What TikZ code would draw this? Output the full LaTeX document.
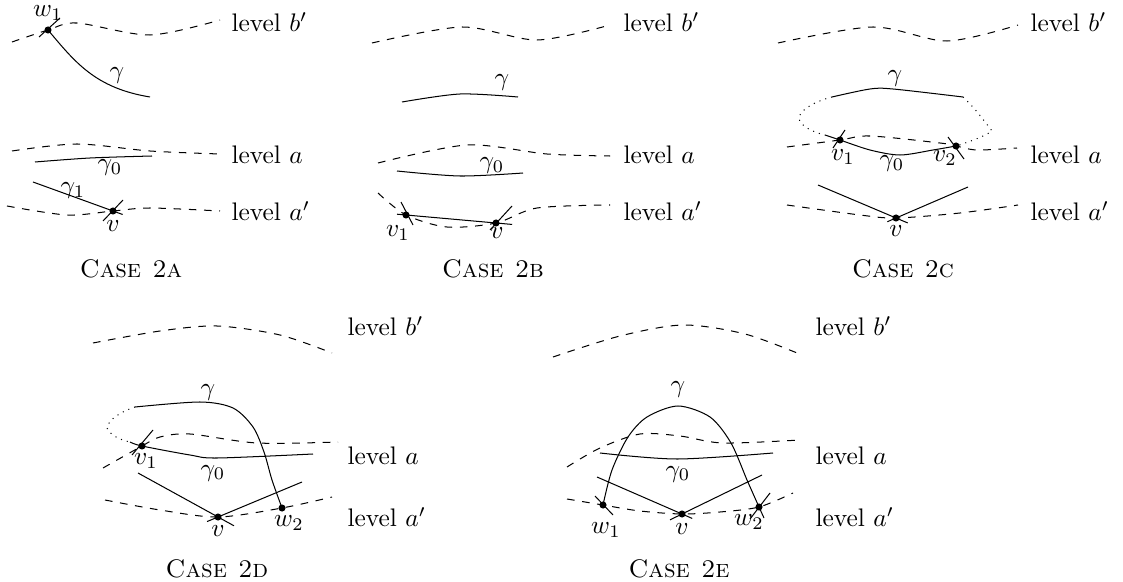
\documentclass[tikz,border=0pt]{standalone}
\usetikzlibrary{calc}
\begin{document}
\begin{tikzpicture}[x=0.3937pt,y=-0.3937pt,
  lev/.style={dashed},
  dot/.style={circle,fill=black,inner sep=0pt,minimum size=2.8pt},
  lab/.style={inner sep=0pt},
  lvl/.style={anchor=west,inner sep=0pt},
  casel/.style={inner sep=0pt}]
\useasboundingbox (0,0) rectangle (1123,582);

% ================= CASE 2A =================
\node[dot] (A-w1) at (48,30) {};
\node[dot] (A-v) at (113,211) {};
\draw[lev] plot[smooth] coordinates {(12,42) (A-w1.center) (77,23) (150,35) (220,20)};
\draw (A-w1.center) .. controls (75,62) and (95,88) .. (150,97);
\draw ([shift={(-9,7)}]A-w1.center) -- ([shift={(12,-12)}]A-w1.center);
\draw[lev] plot[smooth] coordinates {(12,151) (77,144) (150,151) (220,154)};
\draw plot[smooth] coordinates {(35,162) (90,158) (152,156)};
\coordinate (A-g1) at (33,182);
\draw (A-g1) -- ($(A-g1)!1.12!(A-v.center)$);
\draw ([shift={(-10,10)}]A-v.center) -- ([shift={(10,-11)}]A-v.center);
\draw[lev] plot[smooth] coordinates {(7,206) (67,215) (A-v.center) (150,208) (220,211)};
\node[lab] (A-lw1) at (48,13) {$w_1$};
\node[lab] (A-lg) at (117,76) {$\gamma$};
\node[lab] (A-lg0) at (110,168) {$\gamma_0$};
\node[lab] (A-lg1) at (73,191) {$\gamma_1$};
\node[lab] (A-lv) at (113,226) {$v$};
\node[lvl] (A-lb) at (231,22) {level $b'$};
\node[lvl] (A-la) at (231,155) {level $a$};
\node[lvl] (A-lap) at (231,211) {level $a'$};
\node[casel] (A-c) at (131,269) {\textsc{Case\hspace{4.5pt}2a}};

% ================= CASE 2B =================
\node[dot] (B-v1) at (406,215) {};
\node[dot] (B-v) at (496,223) {};
\draw[lev] plot[smooth] coordinates {(372,43) (462,27) (537,40) (610,25)};
\draw plot[smooth] coordinates {(402,102) (460,94) (518,97)};
\draw[lev] plot[smooth] coordinates {(378,163) (467,145) (547,154) (610,156)};
\draw plot[smooth] coordinates {(397,171) (460,176) (523,173)};
\draw[lev] plot[smooth] coordinates {(378,193) (B-v1.center) (447,227) (B-v.center) (537,208) (610,205)};
\draw ($(B-v1.center)!-0.1!(B-v.center)$) -- ($(B-v.center)!-0.18!(B-v1.center)$);
\draw ([shift={(-5,-13)}]B-v1.center) -- ([shift={(7,10)}]B-v1.center);
\draw ([shift={(-6,7)}]B-v.center) -- ([shift={(16,-17)}]B-v.center);
\node[lab] (B-lg) at (502,83) {$\gamma$};
\node[lab] (B-lg0) at (492,166) {$\gamma_0$};
\node[lab] (B-lv1) at (398,233) {$v_1$};
\node[lab] (B-lv) at (497,233) {$v$};
\node[lvl] (B-lb) at (623,22) {level $b'$};
\node[lvl] (B-la) at (623,155) {level $a$};
\node[lvl] (B-lap) at (623,211) {level $a'$};
\node[casel] (B-c) at (493,269) {\textsc{Case\hspace{4.5pt}2b}};

% ================= CASE 2C =================
\node[dot] (C-v1) at (840,140) {};
\node[dot] (C-v2) at (956,146) {};
\node[dot] (C-v) at (896,218) {};
\draw[lev] plot[smooth] coordinates {(778,43) (873,27) (947,41) (1018,25)};
\draw plot[smooth] coordinates {(832,97) (870,89) (893,89) (963,97)};
\draw[dotted] (832,97) .. controls (812,102) and (798,112) .. (799,119) .. controls (801,126) and (812,132) .. (825,135);
\draw[dotted] (963,97) .. controls (975,108) and (985,122) .. (992,131) .. controls (985,136) and (972,141) .. (C-v2.center);
\draw[lev] plot[smooth] coordinates {(787,147) (C-v1.center) (870,136) (940,143) (C-v2.center) (977,150) (1017,148)};
\draw plot[smooth] coordinates {(825,135) (C-v1.center) (870,150) (900,155) (933,150) (C-v2.center)};
\draw ([shift={(-7,8)}]C-v1.center) -- ([shift={(5,-10)}]C-v1.center);
\draw ([shift={(-8,-9)}]C-v2.center) -- ([shift={(8,13)}]C-v2.center);
\coordinate (C-l) at (818,185);
\coordinate (C-r) at (968,187);
\draw (C-l) -- ($(C-l)!1.15!(C-v.center)$);
\draw (C-r) -- ($(C-r)!1.12!(C-v.center)$);
\draw[lev] plot[smooth] coordinates {(787,205) (860,215) (C-v.center) (960,213) (1018,205)};
\node[lab] (C-lg) at (895,79) {$\gamma$};
\node[lab] (C-lg0) at (892,164) {$\gamma_0$};
\node[lab] (C-lv1) at (843,157) {$v_1$};
\node[lab] (C-lv2) at (945,158) {$v_2$};
\node[lab] (C-lv) at (896,231) {$v$};
\node[lvl] (C-lb) at (1030,22) {level $b'$};
\node[lvl] (C-la) at (1030,155) {level $a$};
\node[lvl] (C-lap) at (1030,211) {level $a'$};
\node[casel] (C-c) at (903,269) {\textsc{Case\hspace{4.5pt}2c}};

% ================= CASE 2D =================
\node[dot] (D-v1) at (142,446) {};
\node[dot] (D-v) at (218,517) {};
\node[dot] (D-w2) at (282,508) {};
\draw[lev] plot[smooth] coordinates {(93,343) (160,331) (217,326) (280,335) (332,353)};
\draw plot[smooth] coordinates {(135,407) (200,402) (233,408) (253,427) (264,452) (272,480) (D-w2.center)};
\draw[dotted] (135,407) .. controls (120,412) and (108,420) .. (107,428) .. controls (110,435) and (120,440) .. (130,442);
\draw[lev] plot[smooth] coordinates {(103,468) (D-v1.center) (160,437) (190,434) (257,443) (338,442)};
\draw plot[smooth] coordinates {(130,442) (D-v1.center) (190,455) (217,458) (313,454)};
\draw ([shift={(-10,9)}]D-v1.center) -- ([shift={(11,-16)}]D-v1.center);
\coordinate (D-l) at (138,473);
\coordinate (D-r) at (302,482);
\draw (D-l) -- ($(D-l)!1.2!(D-v.center)$);
\draw (D-r) -- ($(D-r)!1.13!(D-v.center)$);
\draw[lev] plot[smooth] coordinates {(105,500) (160,510) (D-v.center) (D-w2.center) (332,497)};
\node[lab] (D-lg) at (208,392) {$\gamma$};
\node[lab] (D-lg0) at (213,473) {$\gamma_0$};
\node[lab] (D-lv1) at (146,461) {$v_1$};
\node[lab] (D-lv) at (218,531) {$v$};
\node[lab] (D-lw2) at (289,523) {$w_2$};
\node[lvl] (D-lb) at (347,326) {level $b'$};
\node[lvl] (D-la) at (347,456) {level $a$};
\node[lvl] (D-lap) at (347,517) {level $a'$};
\node[casel] (D-c) at (217,569) {\textsc{Case\hspace{4.5pt}2d}};

% ================= CASE 2E =================
\node[dot] (E-w1) at (603,505) {};
\node[dot] (E-v) at (682,514) {};
\node[dot] (E-w2) at (759,507) {};
\draw[lev] plot[smooth] coordinates {(553,357) (620,336) (683,325) (745,334) (802,355)};
\draw plot[smooth] coordinates {(E-w1.center) (612,470) (628,437) (647,417) (678,406) (710,417) (731,443) (747,480) (E-w2.center) (764,518)};
\draw ([shift={(-8,-9)}]E-w1.center) -- ([shift={(10,10)}]E-w1.center);
\draw ([shift={(-9,12)}]E-w2.center) -- ([shift={(11,-14)}]E-w2.center);
\draw[lev] plot[smooth] coordinates {(567,467) (600,448) (640,434) (680,436) (723,443) (800,440)};
\draw plot[smooth] coordinates {(600,453) (677,459) (773,453)};
\coordinate (E-l) at (597,477);
\coordinate (E-r) at (762,475);
\draw (E-l) -- ($(E-l)!1.12!(E-v.center)$);
\draw (E-r) -- ($(E-r)!1.15!(E-v.center)$);
\draw[lev] plot[smooth] coordinates {(567,499) (E-w1.center) (640,511) (E-v.center) (720,512) (E-w2.center) (793,493)};
\node[lab] (E-lg) at (678,390) {$\gamma$};
\node[lab] (E-lg0) at (678,474) {$\gamma_0$};
\node[lab] (E-lw1) at (606,530) {$w_1$};
\node[lab] (E-lv) at (682,529) {$v$};
\node[lab] (E-lw2) at (749,522) {$w_2$};
\node[lvl] (E-lb) at (815,326) {level $b'$};
\node[lvl] (E-la) at (815,456) {level $a$};
\node[lvl] (E-lap) at (815,517) {level $a'$};
\node[casel] (E-c) at (679,569) {\textsc{Case\hspace{4.5pt}2e}};
\end{tikzpicture}
\end{document}
